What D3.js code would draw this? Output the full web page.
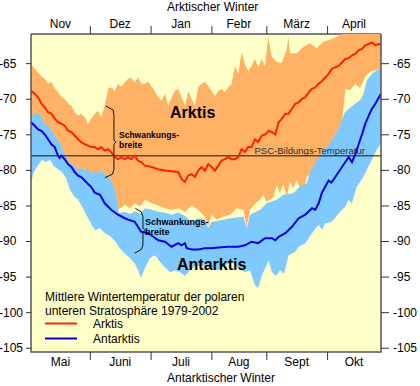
<!DOCTYPE html>
<html><head><meta charset="utf-8">
<script src="https://cdn.jsdelivr.net/npm/d3@7"></script>
<style>
html,body{margin:0;padding:0;background:#fff;}
svg{display:block;}
text{font-family:"Liberation Sans",Arial,sans-serif;}
</style>
</head><body>
<svg id="c" width="420" height="386"></svg>
<script>
// ---- data: [day since 1 Nov / 1 May, temperature °C] ----
const arcticMax = [[0,-65.1],[1.9,-65.8],[3.6,-66.3],[5.3,-66.8],[7.0,-67.2],[8.7,-67.9],[10.4,-67.6],[12.1,-68.6],[13.8,-69.1],[15.5,-69.8],[17.2,-70.0],[18.9,-70.7],[20.6,-71.0],[22.3,-71.9],[24.0,-72.4],[25.6,-72.1],[27.4,-72.6],[29.1,-73.5],[30.7,-72.8],[32.5,-72.1],[34.2,-71.7],[35.8,-72.6],[37.6,-71.0],[39.3,-68.6],[40.9,-68.4],[42.7,-68.9],[44.4,-67.9],[46.0,-68.3],[47.8,-67.7],[49.5,-67.2],[51.1,-67.0],[52.9,-67.7],[54.6,-67.0],[56.2,-67.9],[58.1,-67.9],[59.8,-67.6],[61.6,-68.3],[63.2,-69.0],[64.9,-69.8],[66.6,-70.3],[68.3,-69.3],[70.0,-71.0],[71.7,-69.8],[73.4,-68.9],[75.1,-68.6],[76.8,-69.8],[78.5,-71.0],[80.2,-69.0],[81.9,-70.0],[83.6,-71.0],[85.3,-68.3],[87.0,-67.9],[88.7,-67.6],[90.4,-68.2],[92.1,-68.9],[93.8,-69.6],[95.5,-68.9],[97.2,-68.6],[98.9,-69.1],[100.6,-68.4],[102.3,-67.9],[104.0,-65.4],[105.7,-66.5],[107.4,-63.5],[109.1,-65.1],[110.8,-66.1],[112.5,-65.4],[114.2,-64.4],[115.9,-65.6],[117.6,-64.4],[119.3,-65.4],[121.0,-61.3],[122.7,-64.1],[125.3,-64.8],[127.8,-65.0],[130.4,-63.1],[131.2,-61.3],[132.1,-63.6],[135.5,-63.6],[138.9,-62.7],[142.3,-62.2],[145.7,-62.9],[149.1,-62.0],[152.5,-61.7],[155.9,-61.3],[157.6,-61.0],[159.1,-60.9],[178.5,-60.5]];

const arcticMin = [[0,-76],[5,-76],[10,-76.5],[15,-78.5],[20,-81],[25,-82.5],[30,-83],[35,-83.5],[40,-85],[42.7,-85.4],[44.4,-85.6],[47.9,-84.9],[50.5,-85.4],[53.0,-84.7],[55.6,-85.1],[58.1,-84.2],[61.6,-84.7],[64.9,-85.0],[68.3,-85.4],[71.7,-85.6],[75.1,-85.4],[78.5,-85.9],[81.9,-85.0],[85.3,-85.6],[88.7,-86.6],[90.4,-88.0],[92.1,-86.3],[94.7,-87.0],[98.1,-86.6],[101.5,-86.3],[104.9,-85.4],[108.3,-85.6],[110.0,-88.0],[111.7,-85.6],[115.1,-84.5],[116.8,-84.2],[118.5,-83.5],[120.2,-84.5],[123.6,-83.8],[125.3,-82.1],[127.0,-83.3],[128.7,-81.9],[130.4,-83.8],[132.1,-81.7],[133.8,-82.6],[135.5,-81.4],[137.2,-82.6],[138.9,-83.1],[140.6,-81.0],[142.3,-80.5],[145.7,-79.0],[149.1,-78.0],[152.5,-76.5],[155.9,-75.2],[158.6,-73.5],[160.3,-68.6],[162.7,-68.8],[165.4,-67.9],[167.8,-68.5],[170.5,-66.9],[172.9,-66.2],[175.9,-66.0],[178.5,-65.7]];

const arcticMean = [[0,-68.9],[1.9,-69.3],[3.6,-69.8],[5.3,-70.7],[7.0,-71.2],[8.7,-71.9],[10.4,-72.1],[12.1,-72.8],[13.8,-73.3],[15.5,-73.5],[17.2,-73.8],[18.9,-74.5],[20.6,-74.7],[22.3,-75.2],[24.0,-75.7],[25.6,-76.1],[27.4,-76.4],[29.1,-76.6],[30.7,-76.8],[32.5,-76.8],[34.2,-77.1],[35.8,-76.8],[37.6,-77.3],[39.3,-77.1],[40.9,-77.5],[42.7,-78.2],[44.4,-78.5],[46.0,-78.2],[47.8,-78.5],[49.5,-78.2],[51.1,-78.5],[52.9,-78.0],[54.6,-78.7],[56.2,-78.9],[58.1,-79.4],[61.6,-79.6],[64.9,-79.9],[68.3,-80.1],[71.7,-80.2],[75.1,-80.3],[76.8,-81.3],[78.5,-81.7],[80.2,-80.8],[81.9,-80.6],[83.6,-81.0],[85.3,-80.1],[87.0,-79.6],[88.7,-80.1],[90.4,-79.2],[92.1,-79.6],[93.8,-80.1],[95.5,-79.4],[97.2,-78.7],[98.9,-78.5],[100.6,-78.2],[102.3,-78.5],[104.0,-78.5],[105.7,-78.2],[107.4,-77.1],[109.1,-77.5],[110.8,-76.8],[112.5,-76.8],[114.2,-75.7],[115.9,-76.1],[117.6,-75.2],[119.5,-75.0],[121.2,-74.5],[122.9,-74.7],[124.6,-75.0],[126.3,-73.3],[128.0,-72.8],[129.7,-72.1],[131.4,-72.1],[133.1,-71.4],[134.8,-70.7],[136.5,-70.5],[138.2,-70.0],[139.9,-69.8],[141.6,-69.1],[143.3,-68.6],[145.0,-68.4],[146.7,-67.9],[148.4,-67.5],[150.1,-67.0],[151.8,-66.5],[153.5,-65.8],[155.2,-65.6],[156.9,-65.4],[158.6,-64.9],[160.3,-64.4],[162.0,-64.3],[163.7,-63.9],[165.4,-63.7],[167.1,-63.2],[168.8,-63.0],[170.5,-62.5],[172.2,-62.3],[173.9,-62.1],[175.6,-62.5],[177.3,-62.3],[178.5,-62.4]];

const antarcticMax = [[0,-72.4],[1.9,-72.1],[3.6,-71.9],[5.3,-72.6],[7.0,-73.5],[8.7,-73.8],[10.4,-74.5],[12.1,-75.2],[13.8,-75.9],[15.5,-76.6],[17.2,-77.8],[18.9,-78.7],[20.6,-79.2],[22.3,-79.4],[24.0,-80.1],[25.6,-79.6],[27.4,-80.3],[29.1,-79.6],[30.7,-80.6],[32.5,-80.1],[34.2,-80.6],[35.8,-79.9],[37.6,-80.6],[39.3,-81.0],[40.9,-81.5],[42.7,-82.8],[43.9,-84.2],[44.9,-86.1],[47.9,-85.9],[50.5,-86.2],[53.0,-85.8],[55.6,-86.2],[58.1,-85.4],[61.6,-85.6],[64.9,-85.9],[68.3,-86.0],[71.7,-86.3],[75.1,-86.0],[78.5,-86.5],[81.9,-87.3],[85.3,-86.8],[88.7,-87.0],[90.4,-88.2],[92.1,-87.3],[94.7,-87.2],[98.1,-87.0],[101.5,-86.8],[108.3,-86.6],[110.0,-88.2],[111.7,-86.3],[116.8,-85.6],[120.2,-84.7],[125.3,-84.2],[128.7,-83.5],[133.8,-83.3],[137.2,-82.3],[140.6,-81.9],[142.3,-80.3],[145.7,-78.6],[149.1,-77.5],[152.5,-76.1],[155.9,-74.7],[158.6,-73.0],[160.1,-71.9],[162.7,-71.3],[165.2,-70.7],[167.8,-70.2],[169.3,-69.5],[171.3,-67.4],[173.9,-66.5],[176.4,-66.0],[178.5,-65.7]];

const antarcticMin = [[0,-81.7],[1.5,-80.3],[3.6,-79.3],[5.6,-78.6],[7.6,-78.9],[9.7,-78.6],[11.7,-79.5],[13.8,-79.9],[15.8,-80.3],[17.8,-81.1],[19.9,-82.8],[21.9,-83.7],[24.0,-84.2],[26.0,-85.1],[28.0,-86.2],[30.1,-87.3],[32.6,-88.5],[35.2,-88.2],[37.7,-88.9],[40.3,-89.3],[42.8,-90.0],[45.4,-91.0],[47.9,-91.8],[50.5,-92.4],[53.0,-93.2],[55.1,-94.4],[56.1,-95.2],[58.1,-93.8],[60.7,-92.4],[63.2,-92.0],[65.8,-92.9],[68.3,-93.7],[70.9,-94.4],[73.4,-94.1],[76.0,-94.4],[78.5,-94.9],[81.1,-94.1],[83.6,-93.5],[86.2,-93.5],[88.7,-93.5],[91.3,-93.7],[95.4,-94.1],[98.9,-93.4],[102.5,-93.0],[105.6,-93.8],[109.1,-94.4],[111.7,-94.1],[114.2,-96.2],[115.8,-96.6],[117.8,-94.8],[121.2,-92.7],[122.9,-94.4],[124.9,-94.9],[127.0,-94.1],[129.0,-94.6],[131.4,-92.0],[134.8,-91.5],[136.5,-90.8],[139.9,-90.3],[143.3,-88.9],[146.7,-87.7],[148.4,-88.4],[150.1,-87.5],[153.5,-87.3],[156.9,-86.1],[160.3,-85.2],[162.0,-84.2],[163.7,-84.7],[166.1,-82.4],[169.5,-81.0],[172.9,-79.1],[176.3,-77.2],[178.5,-76.3]];

const antarcticMean = [[0,-73.3],[1.9,-73.8],[3.6,-74.3],[5.3,-74.5],[7.0,-75.0],[8.7,-75.7],[10.4,-76.4],[12.1,-76.8],[13.8,-78.0],[14.6,-78.3],[15.5,-78.0],[17.2,-78.5],[18.9,-79.2],[20.6,-79.6],[22.3,-80.3],[24.0,-80.8],[25.6,-81.0],[27.4,-81.5],[29.1,-82.0],[30.7,-82.4],[32.5,-83.2],[35.2,-83.5],[37.6,-84.7],[40.9,-85.6],[44.4,-86.3],[47.8,-86.8],[49.5,-87.0],[52.9,-87.3],[56.2,-88.7],[59.7,-88.9],[62.4,-89.4],[64.9,-89.9],[68.3,-90.1],[71.7,-90.8],[75.1,-90.3],[76.8,-90.6],[78.5,-90.3],[79.4,-91.0],[81.9,-91.2],[85.3,-91.2],[88.7,-91.0],[92.1,-91.0],[95.5,-90.9],[100.6,-90.8],[105.7,-90.8],[109.1,-90.6],[112.5,-90.1],[115.9,-90.3],[119.3,-89.6],[122.9,-89.6],[124.6,-89.9],[126.3,-89.4],[129.7,-88.9],[133.1,-88.0],[136.5,-86.8],[139.9,-86.3],[143.3,-85.4],[145.0,-85.6],[146.7,-84.7],[148.4,-83.2],[151.8,-81.5],[153.2,-81.8],[155.2,-81.0],[158.6,-79.6],[162.0,-78.2],[163.7,-78.9],[165.4,-77.8],[167.1,-76.4],[168.8,-75.0],[170.5,-73.5],[172.2,-72.4],[173.9,-71.4],[175.6,-70.7],[178.5,-69.3]];

const pscTemp = -78;
const monthBounds = [30, 61, 92, 120, 151];
const seasonEnd = 178.5;
const topMonths = ["Nov","Dez","Jan","Febr","März","April"];
const bottomMonths = ["Mai","Juni","Juli","Aug","Sept","Okt"];
const yTicks = [-65,-70,-75,-80,-85,-90,-95,-100,-105];
const yDomain = [-105.6, -60.9];
// brace annotations (day, temperature)
const brace1 = [[38.1,-71.0],[41.9,-71.6],[42.3,-72.4],[42.3,-75.8],[43.3,-76.1],[42.3,-76.4],[42.3,-79.9],[41.6,-80.6],[37.7,-81.1]];
const brace2 = [[53.2,-85.4],[56.2,-85.9],[57.1,-86.6],[57.1,-88.2],[58.1,-88.5],[57.1,-88.8],[57.1,-90.6],[56.2,-91.2],[52.9,-91.7]];

// ---- drawing ----
const L=31, R=381, T=34, B=352;
const x = d3.scaleLinear().domain([0, seasonEnd]).range([L, R]);
const y = d3.scaleLinear().domain(yDomain).range([B, T]);
const svg = d3.select('#c');

svg.append('defs').append('clipPath').attr('id','clip')
  .append('rect').attr('x',L).attr('y',T).attr('width',R-L).attr('height',B-T);

svg.append('rect').attr('x',L).attr('y',T).attr('width',R-L).attr('height',B-T).attr('fill','#ffffc8');
// top border under the bands
svg.append('line').attr('x1',L).attr('x2',R).attr('y1',T).attr('y2',T).attr('stroke','#555').attr('stroke-width',1.5);

const line = d3.line().x(p=>x(p[0])).y(p=>y(p[1]));
const band = (top,bot) => line(top.concat(bot.slice().reverse())) + 'Z';

const g = svg.append('g').attr('clip-path','url(#clip)');
g.append('path').attr('d', band(arcticMax, arcticMin)).attr('fill','#ffb265');
g.append('path').attr('d', band(antarcticMax, antarcticMin)).attr('fill','#80c9ff');
g.append('line').attr('x1',L).attr('x2',R).attr('y1',y(pscTemp)).attr('y2',y(pscTemp))
  .attr('stroke','#000').attr('stroke-opacity',0.6).attr('stroke-width',1.5);
g.append('path').attr('d', line(arcticMean)).attr('fill','none').attr('stroke','#ff2200').attr('stroke-width',2);
g.append('path').attr('d', line(antarcticMean)).attr('fill','none').attr('stroke','#0000dd').attr('stroke-width',2);

// braces
[brace1, brace2].forEach(b => {
  svg.append('path').attr('d', line(b)).attr('fill','none').attr('stroke','#111').attr('stroke-width',1);
});

// frame (left, right, bottom)
svg.append('path').attr('d', `M${L},${T}V${B}H${R}V${T}`).attr('fill','none').attr('stroke','#555').attr('stroke-width',1.5);

// axes
const fmt = d => String(d);
const yl = svg.append('g').attr('transform',`translate(${L},0)`)
  .call(d3.axisLeft(y).tickValues(yTicks).tickSize(5).tickFormat(fmt));
yl.selectAll('text').attr('text-anchor','start').attr('x', -L-1);
const yr = svg.append('g').attr('transform',`translate(${R},0)`)
  .call(d3.axisRight(y).tickValues(yTicks).tickSize(8).tickPadding(4).tickFormat(fmt));
const xt = svg.append('g').attr('transform',`translate(0,${T})`)
  .call(d3.axisTop(x).tickValues(monthBounds).tickSize(8).tickFormat(''));
const xb = svg.append('g').attr('transform',`translate(0,${B})`)
  .call(d3.axisBottom(x).tickValues(monthBounds).tickSize(8).tickFormat(''));
[yl,yr,xt,xb].forEach(a => {
  a.select('.domain').remove();
  a.selectAll('line').attr('stroke','#333');
  a.selectAll('text').attr('font-size',12).attr('fill','#000').attr('font-family','"Liberation Sans",Arial,sans-serif');
});

const edges = [0, ...monthBounds, seasonEnd];
const mids = d3.range(6).map(i => (edges[i]+edges[i+1])/2);
svg.selectAll('.tm').data(topMonths).enter().append('text')
  .attr('x',(d,i)=>x(mids[i])).attr('y',28).attr('text-anchor','middle').attr('font-size',12).text(d=>d);
svg.selectAll('.bm').data(bottomMonths).enter().append('text')
  .attr('x',(d,i)=>x(mids[i])).attr('y',366).attr('text-anchor','middle').attr('font-size',12).text(d=>d);

svg.append('text').attr('x',167).attr('y',10.5).attr('font-size',12).text('Arktischer Winter');
svg.append('text').attr('x',167).attr('y',381.5).attr('font-size',12).text('Antarktischer Winter');

// labels inside
svg.append('text').attr('x',170).attr('y',118).attr('font-size',16).attr('font-weight','bold').text('Arktis');
svg.append('text').attr('x',177).attr('y',270).attr('font-size',16).attr('font-weight','bold').text('Antarktis');

svg.append('text').attr('x',119).attr('y',137.5).attr('font-size',8.5).attr('font-weight','bold').text('Schwankungs-');
svg.append('text').attr('x',119).attr('y',147.5).attr('font-size',8.5).attr('font-weight','bold').text('breite');
svg.append('text').attr('x',145).attr('y',224.5).attr('font-size',9).attr('font-weight','bold').text('Schwankungs-');
svg.append('text').attr('x',145).attr('y',234.5).attr('font-size',9).attr('font-weight','bold').text('breite');

svg.append('text').attr('x',254.5).attr('y',y(pscTemp)-1.5).attr('font-size',9.5).attr('fill','#2a2a2a').text('PSC-Bildungs-Temperatur');

// legend
svg.append('text').attr('x',45).attr('y',301).attr('font-size',12).text('Mittlere Wintertemperatur der polaren');
svg.append('text').attr('x',45).attr('y',315).attr('font-size',12).text('unteren Stratosphäre 1979-2002');
svg.append('line').attr('x1',45).attr('x2',77).attr('y1',323.5).attr('y2',323.5).attr('stroke','#ff2200').attr('stroke-width',2);
svg.append('text').attr('x',93).attr('y',327.5).attr('font-size',12).text('Arktis');
svg.append('line').attr('x1',45).attr('x2',77).attr('y1',338.5).attr('y2',338.5).attr('stroke','#0000dd').attr('stroke-width',2);
svg.append('text').attr('x',93).attr('y',342.5).attr('font-size',12).text('Antarktis');
</script>
</body></html>
